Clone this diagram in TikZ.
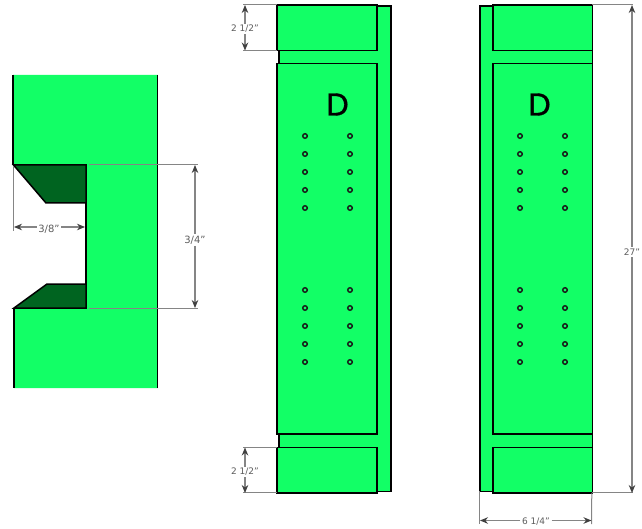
\documentclass[tikz,border=0pt]{standalone}
\usepackage{fontspec}
\setmainfont{DejaVu Sans}
\newfontfamily\letterfont[FakeBold=1.2]{Poppins}
\usetikzlibrary{arrows,arrows.meta,calc}
\definecolor{boardgreen}{HTML}{12FF66}
\definecolor{slotgreen}{HTML}{006420}
\definecolor{dimgrey}{HTML}{858585}
\definecolor{tipgrey}{HTML}{404040}
\tikzset{
  board/.style={draw=black, line width=1.5pt, fill=boardgreen, inner sep=0pt, outer sep=0pt},
  hole/.style={draw=black!90, line width=1.4pt, circle, inner sep=0pt, minimum size=4.6pt},
  extline/.style={draw=dimgrey, line width=1pt},
  dimline/.style={draw=dimgrey, line width=1.1pt, -{Stealth[length=8pt, width=6.5pt, color=tipgrey]}},
  dimlabel/.style={text=tipgrey!85, fill=white, font=\fontsize{9}{10}\selectfont, inner sep=1.5pt},
  biglabel/.style={dimlabel, font=\fontsize{10}{11}\selectfont},
  bigletter/.style={font=\letterfont\fontsize{31.5}{31.5}\selectfont, inner sep=0pt}
}
\begin{document}
\begin{tikzpicture}
  [
    x=1pt, y=-1pt
  ]
  \useasboundingbox (0, 0) rectangle (642, 529);

  % cross section
  \fill [boardgreen] (13, 75) -- (157.5, 75) -- (157.5, 388) -- (14, 388) -- (14, 308) -- (86, 308)
    -- (86, 165) -- (13, 165) -- cycle;
  \draw [line width=1.5pt] (13, 75) -- (13, 165);
  \draw [line width=1.5pt] (14, 308) -- (14, 388);
  \draw [line width=1.5pt] (157.5, 75) -- (157.5, 388);
  \draw [line width=1.5pt, fill=slotgreen] (13.5, 165) -- (86, 165) -- (86, 203) -- (46, 203) -- cycle;
  \draw [line width=1.5pt, fill=slotgreen] (14, 308) -- (86, 308) -- (86, 284) -- (47, 284) -- cycle;
  \draw [line width=1.5pt] (86, 203) -- (86, 284);

  \coordinate (slotleft) at (14, 227);
  \coordinate (slotright) at (85, 227);
  \coordinate (slottop) at (195, 165);
  \coordinate (slotbot) at (195, 308);
  \node [biglabel] (slotw) at (49, 229.5) {3/8"};
  \node [biglabel] (sloth) at (195, 240) {3/4"};
  \draw [extline] (13.5, 166) -- (13.5, 231);
  \draw [extline] (89, 165) -- (198, 165);
  \draw [extline] (89, 308) -- (198, 308);
  \draw [dimline] (slotw.west |- slotleft) -- (slotleft);
  \draw [dimline] (slotw.east |- slotright) -- (slotright);
  \draw [dimline] (sloth) -- (slottop);
  \draw [dimline] (sloth) -- (slotbot);

  % left board
  \node [board, minimum width=112pt, minimum height=485.5pt] at (335, 248.7) (backa) {};
  \node [board, minimum width=100pt, minimum height=45.5pt] at (327, 27.7) (capa) {};
  \node [board, minimum width=100pt, minimum height=370.5pt] at (327, 248.7) (panela) {};
  \node [board, minimum width=100pt, minimum height=45.5pt] at (327, 470.2) (foota) {};
  \node [bigletter] at (337.5, 104.5) (lettera) {D};

  % right board
  \node [board, minimum width=112.5pt, minimum height=485.5pt] at (536, 248.7) (backb) {};
  \node [board, minimum width=99.5pt, minimum height=45.5pt] at (542.7, 27.7) (capb) {};
  \node [board, minimum width=99.5pt, minimum height=370.5pt] at (542.7, 248.7) (panelb) {};
  \node [board, minimum width=99.5pt, minimum height=45.5pt] at (542.7, 470.2) (footb) {};
  \node [bigletter] at (539.5, 104.5) (letterb) {D};

  \foreach \hx in {305, 350, 520, 565}{
    \foreach \hy in {136, 154, 172, 190, 208, 290, 308, 326, 344, 362}{
      \node [hole] at (\hx, \hy) (hole\hx-\hy) {};
    }
  }

  % dimensions
  \coordinate (captop) at (245, 5);
  \coordinate (capbot) at (245, 50.5);
  \coordinate (foottop) at (245, 447.5);
  \coordinate (footbot) at (245, 493);
  \coordinate (fulltop) at (632, 5);
  \coordinate (fullbot) at (632, 493);
  \coordinate (wideleft) at (480, 520.5);
  \coordinate (wideright) at (591.5, 520.5);
  \node [dimlabel] (caph) at (245, 29) {2 1/2"};
  \node [dimlabel] (footh) at (245, 472) {2 1/2"};
  \node [dimlabel] (fullh) at (632, 252) {27"};
  \node [dimlabel] (widew) at (536, 522) {6 1/4"};
  \draw [extline] (capa.north west) -- ++(-34, 0);
  \draw [extline] (capa.south west) -- ++(-34, 0);
  \draw [extline] (foota.north west) -- ++(-34, 0);
  \draw [extline] (foota.south west) -- ++(-34, 0);
  \draw [extline] (capb.north east) -- ++(41, 0);
  \draw [extline] (footb.south east) -- ++(41, 0);
  \draw [extline] (backb.south west) -- (backb.south west |- wideleft) -- ++(0, 3);
  \draw [extline] (footb.south east) ++(-0.7, 0) -- (591.7, 524);
  \draw [dimline] (caph) -- (captop);
  \draw [dimline] (caph) -- (capbot);
  \draw [dimline] (footh) -- (foottop);
  \draw [dimline] (footh) -- (footbot);
  \draw [dimline] (fullh) -- (fulltop);
  \draw [dimline] (fullh) -- (fullbot);
  \draw [dimline] (widew.west |- wideleft) -- (wideleft);
  \draw [dimline] (widew.east |- wideright) -- (wideright);

\end{tikzpicture}
\end{document}
